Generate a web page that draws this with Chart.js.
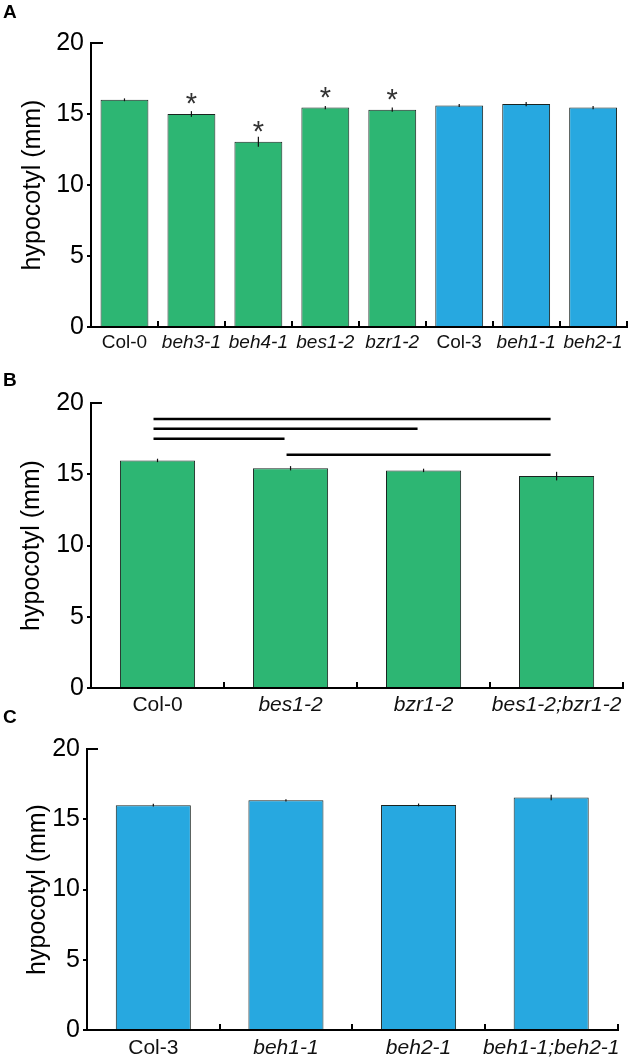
<!DOCTYPE html>
<html>
<head>
<meta charset="utf-8">
<script src="https://cdn.jsdelivr.net/npm/chart.js@4.4.1/dist/chart.umd.min.js"></script>
<style>
  body { margin: 0; background: #fff; }
  #wrap { position: relative; width: 633px; height: 1061px; overflow: hidden; }
  canvas { position: absolute; left: 0; }
  .panel { position: absolute; left: 3px; font: bold 19px "Liberation Sans", Arial, sans-serif; color: #000; }
</style>
</head>
<body>
<div id="wrap">
  <canvas id="chartA" width="633" height="360" style="top:0"></canvas>
  <canvas id="chartB" width="633" height="355" style="top:360px"></canvas>
  <canvas id="chartC" width="633" height="346" style="top:715px"></canvas>
  <div class="panel" style="top:1px">A</div>
  <div class="panel" style="top:369px">B</div>
  <div class="panel" style="top:706px">C</div>
</div>
<script>
// panel A: single mutants
var labelsA = ['Col-0', 'beh3-1', 'beh4-1', 'bes1-2', 'bzr1-2', 'Col-3', 'beh1-1', 'beh2-1'];
var valuesA = [16.0, 15.0, 13.05, 15.45, 15.3, 15.6, 15.7, 15.45];
var errorsA = [0.1, 0.2, 0.35, 0.12, 0.15, 0.1, 0.15, 0.12];
var starsA = ['beh3-1', 'beh4-1', 'bes1-2', 'bzr1-2'];
var col3Lines = ['Col-3', 'beh1-1', 'beh2-1', 'beh1-1;beh2-1'];

// panel B: bes1-2 / bzr1-2
var labelsB = ['Col-0', 'bes1-2', 'bzr1-2', 'bes1-2;bzr1-2'];
var valuesB = [15.97, 15.42, 15.27, 14.87];
var errorsB = [0.12, 0.15, 0.12, 0.3];
// comparison bars: [from, to, height]
var compareB = [[0, 3, 18.88], [0, 2, 18.2], [0, 1, 17.5], [1, 3, 16.37]];

// panel C: beh1-1 / beh2-1
var labelsC = ['Col-3', 'beh1-1', 'beh2-1', 'beh1-1;beh2-1'];
var valuesC = [16.0, 16.35, 16.02, 16.55];
var errorsC = [0.1, 0.08, 0.1, 0.2];

var yTicks = [0, 5, 10, 15, 20];

var FONT = '"Liberation Sans", Arial, sans-serif';
var GREEN = '#2db673';
var BLUE = '#27a8e0';

// error bars, asterisks, comparison lines and the inward top tick
var extras = {
  id: 'extras',
  afterDatasetsDraw: function (chart, args, opts) {
    var ctx = chart.ctx;
    var x = chart.scales.x, y = chart.scales.y;
    var meta = chart.getDatasetMeta(0);
    var data = chart.data.datasets[0].data;
    ctx.save();
    ctx.strokeStyle = '#111';
    ctx.lineWidth = 1.2;
    (opts.errors || []).forEach(function (e, i) {
      var px = meta.data[i].x;
      ctx.beginPath();
      ctx.moveTo(px, y.getPixelForValue(data[i] - e));
      ctx.lineTo(px, y.getPixelForValue(data[i] + e));
      ctx.stroke();
    });

    ctx.fillStyle = '#333';
    ctx.font = '29px ' + FONT;
    ctx.textAlign = 'center';
    ctx.textBaseline = 'alphabetic';
    (opts.stars || []).forEach(function (name) {
      var i = chart.data.labels.indexOf(name);
      ctx.fillText('*', meta.data[i].x, y.getPixelForValue(data[i]) - 1);
    });

    ctx.strokeStyle = '#000';
    ctx.lineWidth = 2.5;
    (opts.lines || []).forEach(function (l) {
      var yy = y.getPixelForValue(l[2]);
      ctx.beginPath();
      ctx.moveTo(x.getPixelForValue(l[0]) - 4, yy);
      ctx.lineTo(x.getPixelForValue(l[1]) - 6, yy);
      ctx.stroke();
    });

    // top tick points into the plot
    ctx.lineWidth = 2;
    ctx.beginPath();
    ctx.moveTo(x.left, y.getPixelForValue(20));
    ctx.lineTo(x.left + opts.topTick, y.getPixelForValue(20));
    ctx.stroke();
    ctx.restore();
  }
};

function makeChart(id, labels, values, errors, o) {
  var colors = labels.map(function (l) { return col3Lines.indexOf(l) >= 0 ? BLUE : GREEN; });
  return new Chart(document.getElementById(id), {
    type: 'bar',
    data: {
      labels: labels,
      datasets: [{
        data: values,
        backgroundColor: colors,
        borderColor: '#1a2420',
        borderWidth: 1,
        borderSkipped: 'bottom',
        barPercentage: o.barPct,
        categoryPercentage: 1
      }]
    },
    options: {
      responsive: false,
      animation: false,
      layout: { padding: { top: o.top, right: o.right, left: 0, bottom: 0 } },
      plugins: {
        legend: { display: false },
        tooltip: { enabled: false },
        extras: { errors: errors, stars: o.stars, lines: o.lines, topTick: o.topTick }
      },
      scales: {
        x: {
          grid: { offset: true, drawOnChartArea: false, tickLength: -6, color: '#000', lineWidth: 2 },
          border: { color: '#000', width: 2 },
          ticks: {
            color: '#111',
            padding: o.xPad,
            maxRotation: 0,
            autoSkip: false,
            font: function (c) {
              var name = labels[c.index] || '';
              return { family: FONT, size: o.xFont, style: name.indexOf('Col') === 0 ? 'normal' : 'italic' };
            }
          },
          afterFit: function (s) { s.height = o.xHeight; }
        },
        y: {
          min: 0,
          max: 20,
          afterBuildTicks: function (s) { s.ticks = yTicks.map(function (v) { return { value: v }; }); },
          grid: {
            drawOnChartArea: false,
            tickLength: 4,
            lineWidth: 2,
            color: function (c) { return c.tick && c.tick.value === 20 ? 'rgba(0,0,0,0)' : '#000'; }
          },
          border: { color: '#000', width: 2 },
          ticks: { color: '#000', padding: 3, font: { family: FONT, size: 25 } },
          title: {
            display: true,
            text: 'hypocotyl (mm)',
            color: '#000',
            font: { family: FONT, size: 25 },
            padding: { top: o.titlePad, bottom: 0 }
          },
          afterFit: function (s) { s.width = o.yWidth; }
        }
      }
    },
    plugins: [extras]
  });
}

makeChart('chartA', labelsA, valuesA, errorsA, {
  barPct: 0.715, top: 43, right: 5, yWidth: 91, xHeight: 33, xFont: 19, xPad: 10,
  titlePad: 18, topTick: 12, stars: starsA
});
makeChart('chartB', labelsB, valuesB, errorsB, {
  barPct: 0.565, top: 43, right: 5, yWidth: 91, xHeight: 27, xFont: 21, xPad: 11,
  titlePad: 17, topTick: 11, lines: compareB
});
makeChart('chartC', labelsC, valuesC, errorsC, {
  barPct: 0.566, top: 34, right: 12, yWidth: 87, xHeight: 31, xFont: 21, xPad: 12,
  titlePad: 23, topTick: 11
});
</script>
</body>
</html>
